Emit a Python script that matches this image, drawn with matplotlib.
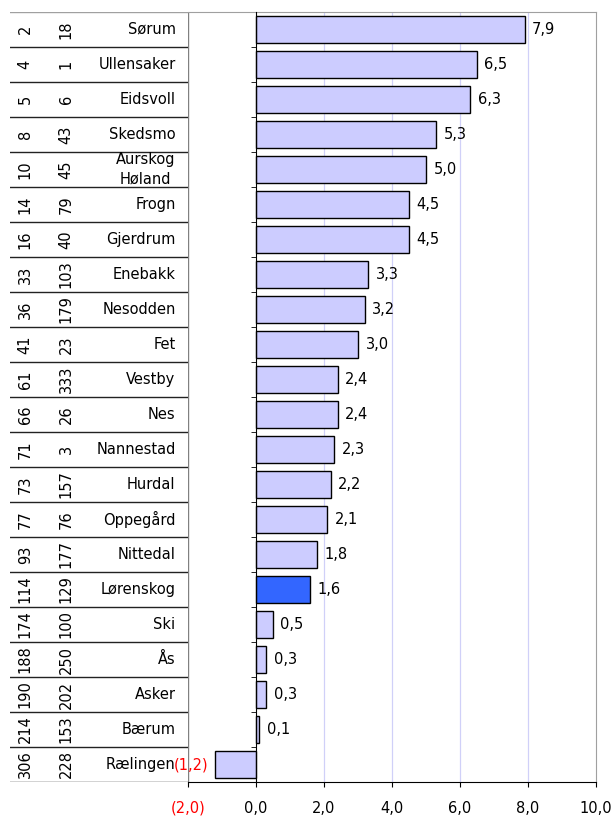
import numpy as np
import matplotlib
matplotlib.use('Agg')
import matplotlib.pyplot as plt

plt.rcParams['font.family'] = ['DejaVu Sans']

# Data
names = ['Sørum', 'Ullensaker', 'Eidsvoll', 'Skedsmo', 'Aurskog\nHøland', 'Frogn',
         'Gjerdrum', 'Enebakk', 'Nesodden', 'Fet', 'Vestby', 'Nes', 'Nannestad',
         'Hurdal', 'Oppegård', 'Nittedal', 'Lørenskog', 'Ski', 'Ås', 'Asker',
         'Bærum', 'Rælingen']
rank_a = [2, 4, 5, 8, 10, 14, 16, 33, 36, 41, 61, 66, 71, 73, 77, 93, 114, 174,
          188, 190, 214, 306]
rank_b = [18, 1, 6, 43, 45, 79, 40, 103, 179, 23, 333, 26, 3, 157, 76, 177, 129,
          100, 250, 202, 153, 228]
values = [7.9, 6.5, 6.3, 5.3, 5.0, 4.5, 4.5, 3.3, 3.2, 3.0, 2.4, 2.4, 2.3, 2.2,
          2.1, 1.8, 1.6, 0.5, 0.3, 0.3, 0.1, -1.2]
highlight = 'Lørenskog'
xticks = [-2, 0, 2, 4, 6, 8, 10]

FS = 10.5


def fmt(v):
    s = '%.1f' % abs(v)
    s = s.replace('.', ',')
    return '(%s)' % s if v < 0 else s


W, H = 614, 816
fig = plt.figure(figsize=(W / 100, H / 100), dpi=100)
bottom = 1 - 782 / H
height = (782 - 12) / H
ax = fig.add_axes([188 / W, bottom, (596 - 188) / W, height])
ax_t = fig.add_axes([10 / W, bottom, 178 / W, height])

n = len(names)
y = np.arange(n)
colors = ['#3366ff' if nm == highlight else '#ccccff' for nm in names]

ax.barh(y, values, height=0.78, color=colors, edgecolor='black', linewidth=1.0,
        zorder=3)
ax.set_ylim(n - 0.5, -0.5)
ax.set_xlim(-2, 10)

# grid
for gx in [2, 4, 6, 8]:
    ax.axvline(gx, color='#d0d0f8', lw=0.9, zorder=1)
ax.axvline(-2, color='#808080', lw=1.0, zorder=2)

# spines
ax.spines['left'].set_position(('data', 0))
ax.spines['left'].set_color('black')
ax.spines['left'].set_zorder(4)
ax.spines['top'].set_color('#a0a0a0')
ax.spines['right'].set_color('#a0a0a0')
ax.spines['bottom'].set_color('black')

ax.set_yticks([])
ax.set_yticks(np.arange(-0.5, n, 1.0), minor=True)
ax.tick_params(axis='y', which='minor', length=3.5, direction='out', color='black')
ax.tick_params(axis='y', which='major', length=0)

ax.set_xticks(xticks)
ax.set_xticklabels([fmt(v) for v in xticks], fontsize=FS)
ax.tick_params(axis='x', length=3.5, pad=10, color='black')
for lbl, v in zip(ax.get_xticklabels(), xticks):
    if v < 0:
        lbl.set_color('red')

# value labels
for yi, v in zip(y, values):
    if v >= 0:
        ax.text(v + 0.22, yi, fmt(v), ha='left', va='center', fontsize=FS)
    else:
        ax.text(v - 0.2, yi, fmt(v), ha='right', va='center', fontsize=FS,
                color='red')

# left table
ax_t.set_ylim(n - 0.5, -0.5)
ax_t.set_xlim(0, 1)
ax_t.axis('off')
for b in np.arange(-0.5, n, 1.0):
    c = '#a0a0a0' if b < 0 else '#222222'
    ax_t.axhline(b, color=c, lw=1.0)
for yi in y:
    ax_t.text(0.085, yi, str(rank_a[yi]), rotation=90, ha='center', va='center',
              fontsize=FS)
    ax_t.text(0.315, yi, str(rank_b[yi]), rotation=90, ha='center', va='center',
              fontsize=FS)
    ax_t.text(0.93, yi, names[yi], ha='right', va='center', fontsize=FS,
              multialignment='center', linespacing=1.4)

fig.savefig('out.png', dpi=100)
